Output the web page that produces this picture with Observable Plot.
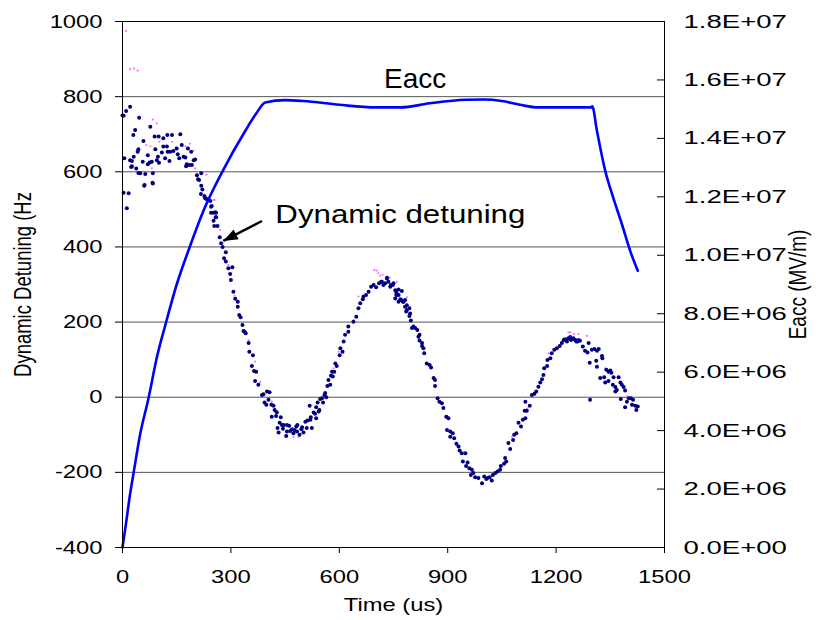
<!DOCTYPE html>
<html>
<head>
<meta charset="utf-8">
<script src="https://cdn.jsdelivr.net/npm/d3@7"></script>
<script src="https://cdn.jsdelivr.net/npm/@observablehq/plot@0.6"></script>
<style>
html, body { margin: 0; padding: 0; background: #fff; }
#chart svg { display: block; }
</style>
</head>
<body>
<div id="chart"></div>
<script>
// ---- axis ticks ----
const timeTicks = [0, 300, 600, 900, 1200, 1500];
const detuningTicks = [-400, -200, 0, 200, 400, 600, 800, 1000];
const eaccTicks = [0, 2e6, 4e6, 6e6, 8e6, 1e7, 1.2e7, 1.4e7, 1.6e7, 1.8e7];
const eaccTickLabels = ["0.0E+00", "2.0E+06", "4.0E+06", "6.0E+06", "8.0E+06",
                        "1.0E+07", "1.2E+07", "1.4E+07", "1.6E+07", "1.8E+07"];
const eaccDomain = [0, 1.8e7];
const detuningDomain = [-400, 1000];
const timeDomain = [0, 1500];

// ---- Eacc (V/m) vs time (us) ----
const eaccTime  = [0, 10, 21, 30, 49, 72, 95, 120, 150, 185, 225, 275, 340, 370, 395, 450, 500, 600, 700, 770,
                   850, 950, 1000, 1050, 1100, 1150, 1298, 1300, 1313, 1336, 1355, 1382, 1405, 1426];
const eaccValue = [0, 0.85e6, 1.83e6, 2.5e6, 3.88e6, 5.11e6, 6.5e6, 7.68e6, 9.0e6, 10.25e6, 11.55e6, 12.83e6,
                   14.26e6, 14.85e6, 15.23e6, 15.31e6, 15.28e6, 15.15e6, 15.06e6, 15.06e6,
                   15.2e6, 15.32e6, 15.33e6, 15.28e6, 15.15e6, 15.06e6, 15.06e6, 15.1e6, 14.26e6,
                   12.89e6, 12.09e6, 11.07e6, 10.15e6, 9.47e6];

// ---- Dynamic detuning (Hz) vs time (us), main series ----
const detuningPoints = [
 [3,749],[10,762],[21,773],[0,750],[5,636],[3,544],[17,543],[12,503],[21,631],[26,629],[24,613],[31,640],[38,609],
 [42,653],[44,660],[49,596],[56,627],[61,565],[63,594],[58,682],[70,620],[70,644],[30,698],[35,711],[46,744],
 [77,720],[75,625],[84,596],[84,569],[81,627],[89,694],[100,694],[91,660],[95,631],[98,640],[101,624],[109,651],
 [113,667],[113,689],[118,636],[123,667],[125,653],[124,698],[130,629],[132,653],[137,698],[141,655],[150,662],
 [153,647],[157,636],[160,700],[164,671],[169,640],[174,638],[176,615],[181,662],[178,620],[185,618],[190,653],
 [192,618],[197,631],[201,633],[206,591],[209,580],[212,578],[218,596],[218,563],[221,553],[217,541],[227,535],
 [229,529],[234,527],[238,527],[243,522],[247,509],[245,491],[257,492],[258,479],[44,597],[26,615],[60,563],[83,571],
 [245,507],[252,491],[259,491],[252,470],[259,479],[263,456],[254,456],[269,426],[273,410],[277,400],[286,386],
 [281,370],[286,361],[293,343],[304,346],[298,328],[300,312],[307,281],[312,262],[319,254],[319,241],[323,219],
 [327,213],[332,192],[335,176],[338,174],[341,170],[349,144],
 [351,121],[361,112],[358,83],[364,70],[370,68],[367,43],[376,33],[386,6],[390,8],[400,15],[407,13],[393,-14],
 [398,-20],[404,-7],[412,-20],[418,-23],[421,-34],[427,-40],[413,-52],[425,-50],[438,-53],[435,-68],[441,-74],
 [446,-74],[429,-82],[444,-84],[455,-74],[461,-76],[432,-94],[455,-91],[453,-103],[464,-90],[469,-85],[473,-96],
 [476,-87],[481,-78],[484,-74],[483,-91],[490,-100],[495,-85],[501,-94],[497,-80],[506,-65],[510,-82],[512,-62],
 [518,-23],[520,-60],[524,-82],[521,-53],[529,-41],[533,-44],[536,-56],[536,-27],[543,-38],[545,-34],[540,-14],
 [547,-5],[552,-3],[555,-14],[559,6],[564,0],[561,11],[567,30],[575,33],[570,46],[577,57],[582,55],[580,68],
 [586,68],[589,90],[593,83],[601,112],[609,121],
 [603,130],[612,148],[616,166],[625,174],[625,188],[639,201],[647,214],[653,237],[658,250],[665,261],[667,268],
 [674,272],[681,281],[688,294],[695,299],[702,293],[710,303],[716,307],[722,299],[732,316],[736,307],[743,299],
 [750,303],[755,285],[758,272],[764,272],[769,261],[776,254],[782,259],[787,245],[794,237],[796,223],[805,188],
 [816,179],[822,166],[829,144],[833,130],
 [718,307],[727,303],[732,318],[741,294],[748,299],[758,278],[764,287],[773,283],[755,263],[764,254],[771,259],
 [778,254],[782,241],[787,232],[785,228],[794,216],[798,204],[801,184],[810,184],[819,161],[822,151],[829,136],
 [835,117],[842,90],[850,86],[854,79],[861,51],[865,46],[865,30],[872,-3],[877,-12],[884,-16],[888,-29],[896,-52],
 [902,-56],[898,-87],[907,-91],[914,-96],[907,-105],[918,-109],[924,-124],[930,-131],[933,-142],[939,-149],
 [949,-149],[942,-171],[955,-174],[951,-183],[960,-189],[967,-193],[964,-207],[971,-202],[976,-213],[985,-215],
 [995,-229],[1001,-211],[1007,-218],[1010,-215],[1016,-213],[1022,-222],[1025,-207],[1032,-202],[1038,-198],
 [1045,-193],[1047,-183],[1056,-177],[1062,-171],[1059,-162],[1068,-122],[1073,-138],[1081,-114],[1084,-100],
 [1090,-96],[1096,-68],[1103,-78],[1108,-60],[1115,-56],[1113,-36],[1119,-36],[1115,-12],[1127,-23],[1133,6],
 [1140,9],[1145,15],[1151,28],[1156,39],[1161,48],[1165,59],[1167,77],[1175,83],[1176,99],[1184,104],[1188,117],
 [1195,126],[1202,130],[1210,136],[1216,144],[1221,152],[1230,148],[1234,157],[1241,152],[1248,157],[1256,148],
 [1262,152],
 [1225,154],[1239,160],[1244,154],[1253,152],[1259,148],[1266,150],[1274,135],[1280,124],[1287,119],[1290,144],
 [1299,126],[1306,128],[1313,124],[1318,128],[1293,92],[1311,97],[1327,110],[1328,104],[1313,81],[1322,51],
 [1333,53],[1339,73],[1345,68],[1350,71],[1336,39],[1345,43],[1353,65],[1359,53],[1357,33],[1364,27],[1373,53],
 [1368,19],[1364,15],[1378,39],[1382,33],[1387,27],[1391,18],[1379,-5],[1391,-27],[1396,-12],[1401,-3],[1407,-3],
 [1413,-7],[1410,-20],[1419,-23],[1422,-34],[1426,-25],[1294,-7]
];

// ---- second (pink) detuning series, mostly hidden behind the first ----
const detuningPoints2 = [
 [10,975],[21,873],[32,875],[42,869],[84,739],[95,729],[66,671],[77,668],[90,662],[102,680],[137,680],[148,665],
 [174,668],[187,675],[197,656],[201,609],[81,609],[255,525],[252,525],[270,445],[293,352],[349,152],[367,95],
 [381,40],[413,-12],[473,-106],[487,-106],[584,77],[598,121],[653,268],[697,338],[704,337],[708,330],[713,323],
 [720,326],[740,318],[759,307],[787,266],[1078,-105],[1179,117],[1234,172],[1239,173],[1250,168],[1262,168],
 [1285,163],[1336,77],[1378,39],[1396,2],[1377,-3],[232,592],[226,540],[310,270],[445,-78],[560,8],[640,205],
 [900,-52],[1000,-210],[1120,-30]
];

// ---- annotations ----
const eaccLabel = [{t: 810, v: 823, label: "Eacc"}];
const detuningLabel = [{t: 423, v: 463, label: "Dynamic detuning"}];
const annotationArrow = [{t1: 386, v1: 469, t2: 279, v2: 416}];

// map Eacc onto the detuning (left) scale for the secondary axis
const eaccToHz = e => detuningDomain[0] + (e - eaccDomain[0]) / (eaccDomain[1] - eaccDomain[0]) * (detuningDomain[1] - detuningDomain[0]);
const eaccData = eaccTime.map((t, i) => ({t, hz: eaccToHz(eaccValue[i])}));
const det1 = detuningPoints.map(([t, v]) => ({t, v}));
const det2 = detuningPoints2.map(([t, v]) => ({t, v}));
const rightTicks = eaccTicks.map((e, i) => ({hz: eaccToHz(e), label: eaccTickLabels[i]}));
const gridValues = detuningTicks.filter(v => v > detuningDomain[0] && v < detuningDomain[1]);

const chart = Plot.plot({
  width: 818,
  height: 620,
  marginLeft: 122,
  marginRight: 154,
  marginTop: 21,
  marginBottom: 73,
  x: {domain: timeDomain, ticks: timeTicks},
  y: {domain: detuningDomain, ticks: detuningTicks},
  style: {fontFamily: "'Liberation Sans', Arial, sans-serif", fontSize: "19px", color: "#000", background: "#fff"},
  marks: [
    Plot.ruleY(gridValues, {stroke: "#555", strokeWidth: 1}),
    Plot.dot(det2, {x: "t", y: "v", r: 1.1, fill: "#ff70ff", stroke: null}),
    Plot.dot(det1, {x: "t", y: "v", r: 2.0, fill: "#000080", stroke: null}),
    Plot.line(eaccData, {x: "t", y: "hz", stroke: "#0000ff", strokeWidth: 2.6, curve: "monotone-x"}),
    Plot.frame({stroke: "#000"}),
    Plot.axisX({ticks: timeTicks, tickSize: 6, tickPadding: 16, tickFormat: d => String(d), label: null}),
    Plot.axisY({anchor: "left", ticks: detuningTicks, tickSize: 7, tickPadding: 13, tickFormat: d => String(d), label: null}),
    Plot.axisY({anchor: "right", ticks: rightTicks.map(d => d.hz), tickSize: 8, dx: -8, tickFormat: () => "", label: null}),
    Plot.text(rightTicks, {y: "hz", text: "label", frameAnchor: "right", dx: 19, textAnchor: "start",
                           lineAnchor: "middle", fontSize: 19, ariaLabel: () => "eacc-tick-label"}),
    Plot.text(["Time (us)"], {frameAnchor: "bottom", dy: 63, lineAnchor: "bottom", textAnchor: "middle", fontSize: 19, ariaLabel: () => "x-title"}),
    Plot.text(["Dynamic Detuning (Hz"], {frameAnchor: "left", dx: -92, rotate: -90, lineAnchor: "bottom", textAnchor: "middle", fontSize: 18.5, ariaLabel: () => "y-title"}),
    Plot.text(["Eacc (MV/m)"], {frameAnchor: "right", dx: 141, rotate: -90, lineAnchor: "bottom", textAnchor: "middle", fontSize: 19, ariaLabel: () => "y2-title"}),
    Plot.text(eaccLabel, {x: "t", y: "v", text: "label", fontSize: 28, textAnchor: "middle", lineAnchor: "bottom", ariaLabel: () => "eacc-label"}),
    Plot.text(detuningLabel, {x: "t", y: "v", text: "label", fontSize: 25, textAnchor: "start", lineAnchor: "bottom", ariaLabel: () => "detuning-label"}),
    Plot.link(annotationArrow, {x1: "t1", y1: "v1", x2: "t2", y2: "v2", stroke: "#000", strokeWidth: 2.4, markerEnd: "arrow"})
  ]
});

// horizontal stretch of the texts, as in the reference picture (chosen per mark)
const stretchByMark = {"eacc-tick-label": 1.45, "eacc-label": 1.0, "y-title": 1.3, "y2-title": 1.3};
chart.querySelectorAll("text").forEach(t => {
  const own = t.getAttribute("aria-label");
  const content = (t.textContent || "").trim();
  let s = 1.25;
  if (own && own in stretchByMark) s = stretchByMark[own];
  else if (content === "Eacc") s = 1.0;
  else if (eaccTickLabels.includes(content)) s = 1.45;
  let tr = t.getAttribute("transform") || "";
  if (tr.includes("rotate")) tr = tr.replace("rotate", `scale(${s},1) rotate`);
  else tr = (tr + ` scale(${s},1)`).trim();
  t.setAttribute("transform", tr);
});
// filled arrow head
chart.querySelectorAll("marker").forEach(m => {
  m.setAttribute("overflow", "visible");
  m.setAttribute("fill", "#000");
  m.setAttribute("stroke", "none");
  const p = m.querySelector("path");
  if (p) p.setAttribute("d", "M-9,-3.4L0,0L-9,3.4Z");
});

document.getElementById("chart").appendChild(chart);
</script>
</body>
</html>
